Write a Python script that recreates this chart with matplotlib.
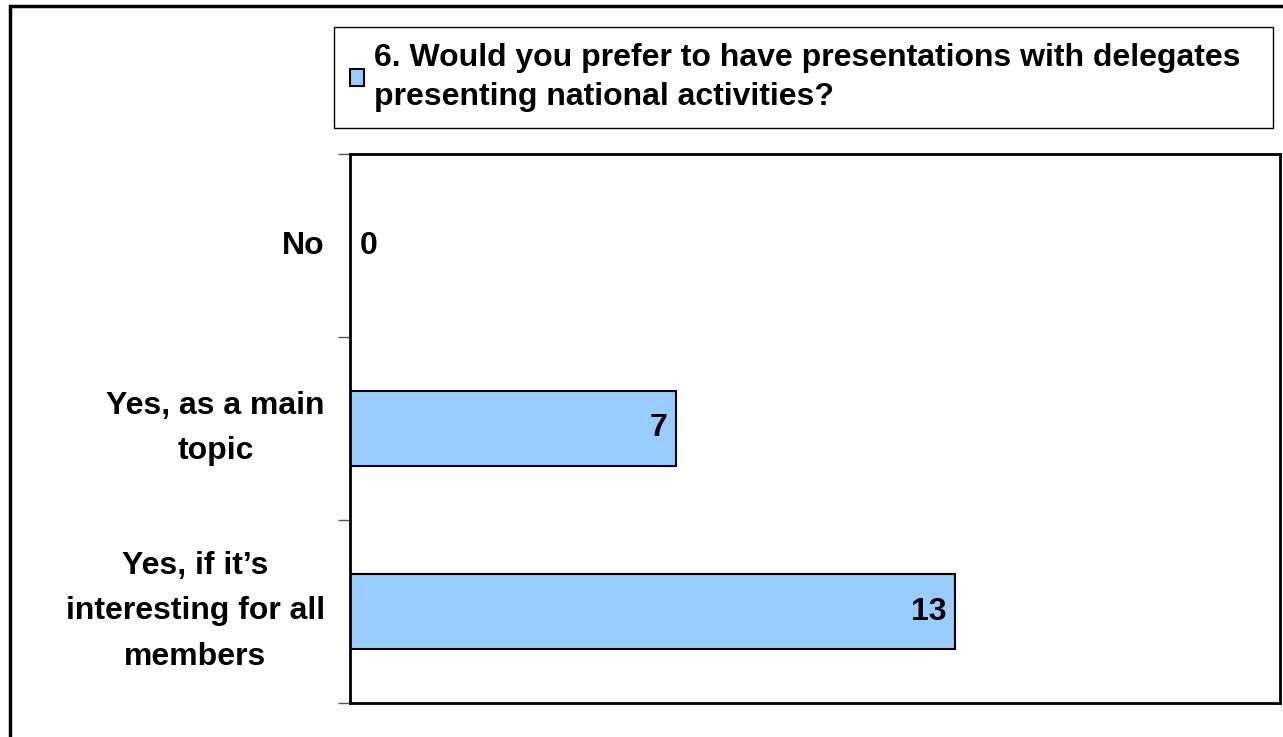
import matplotlib.pyplot as plt
from matplotlib.patches import Rectangle

plt.rcParams['font.family'] = ['Liberation Sans', 'DejaVu Sans']

# data
categories = ["No", "Yes, as a main\ntopic", "Yes, if it\u2019s\ninteresting for all\nmembers"]
values = [0, 7, 13]
series_name = "6. Would you prefer to have presentations with delegates\npresenting national activities?"

W, H = 1283, 737
fig = plt.figure(figsize=(W / 100, H / 100), dpi=100)

# plot area in pixels: left 350, right 1280, top 154, bottom 703
ax = fig.add_axes([350 / W, 1 - 703 / H, (1280 - 350) / W, (703 - 154) / H])

pos = list(range(len(categories)))[::-1]  # first category on top
bars = ax.barh(pos, values, height=0.41, color='#99CCFF', edgecolor='black',
               linewidth=1.5, label=series_name)

ax.set_xlim(0, 20)
ax.set_ylim(-0.5, len(categories) - 0.5)

for p, v in zip(pos, values):
    if v > 0:
        ax.text(v - 0.18, p, str(v), ha='right', va='center',
                fontsize=23, fontweight='bold')
    else:
        ax.text(0.22, p, str(v), ha='left', va='center',
                fontsize=23, fontweight='bold')

# category labels
ax.set_yticks([])
for p, c in zip(pos, categories):
    ax.text(-25 / 46.5, p, c, ha='right', va='center', fontsize=23,
            fontweight='bold', linespacing=1.68, multialignment='center')

# tick marks at category boundaries
ax.set_yticks([-0.5, 0.5, 1.5, 2.5], minor=True)
ax.tick_params(axis='y', which='minor', length=9, width=1, color='#555555', direction='out')
ax.tick_params(axis='y', which='major', length=0)
ax.set_xticks([])

for s in ax.spines.values():
    s.set_linewidth(2)
    s.set_color('black')

leg = ax.legend(loc='upper left',
                bbox_to_anchor=(334 / W, 1 - 124 / H, (1273 - 334) / W, 97 / H),
                bbox_transform=fig.transFigure, mode='expand',
                fancybox=False, framealpha=1, edgecolor='black',
                prop={'size': 23, 'weight': 'bold'},
                handlelength=0.45, handleheight=0.45, handletextpad=0.3,
                borderpad=0.5, borderaxespad=0)
leg.get_frame().set_linewidth(1)
for t in leg.get_texts():
    t.set_linespacing(1.4)

# chart outer border
fig.patches.append(Rectangle((10 / W, -0.05), 1.1, 1 - 6 / H + 0.05,
                             transform=fig.transFigure, fill=False,
                             edgecolor='black', linewidth=2.5))

fig.savefig('out.png', dpi=100)
